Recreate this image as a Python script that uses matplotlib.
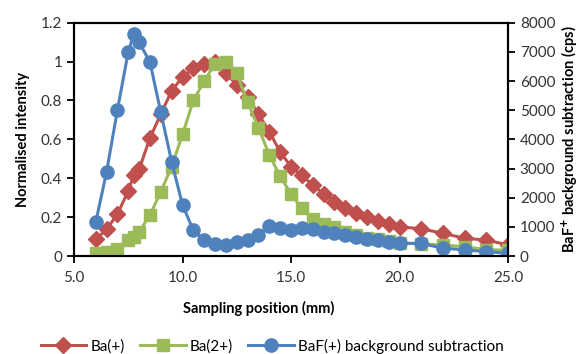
import matplotlib
matplotlib.use("Agg")
import matplotlib.pyplot as plt
from matplotlib.ticker import FixedLocator, FormatStrFormatter

plt.rcParams['font.family'] = ['Lato', 'DejaVu Sans']

# sampling positions (mm)
position = [6.0, 6.5, 7.0, 7.5, 7.75, 8.0, 8.5, 9.0, 9.5, 10.0, 10.5, 11.0, 11.5, 12.0,
            12.5, 13.0, 13.5, 14.0, 14.5, 15.0, 15.5, 16.0, 16.5, 17.0, 17.5, 18.0,
            18.5, 19.0, 19.5, 20.0, 21.0, 22.0, 23.0, 24.0, 25.0]

# normalised intensities
ba_plus = [0.085, 0.137, 0.215, 0.335, 0.415, 0.445, 0.607, 0.73, 0.85, 0.92, 0.965, 0.985,
           1.0, 0.94, 0.88, 0.82, 0.73, 0.64, 0.535, 0.46, 0.415, 0.365, 0.32, 0.28, 0.245,
           0.22, 0.20, 0.18, 0.165, 0.15, 0.14, 0.117, 0.091, 0.082, 0.057]
ba_2plus = [0.018, 0.022, 0.034, 0.08, 0.10, 0.125, 0.21, 0.33, 0.46, 0.625, 0.80, 0.90,
            0.99, 1.0, 0.94, 0.79, 0.66, 0.52, 0.41, 0.32, 0.245, 0.19, 0.165, 0.15, 0.125,
            0.11, 0.095, 0.085, 0.075, 0.068, 0.062, 0.057, 0.048, 0.033, 0.03]

# BaF+ counts after background subtraction (cps)
baf_plus = [1150, 2880, 5000, 7000, 7600, 7330, 6650, 4930, 3230, 1750, 880, 550, 400, 380,
            480, 550, 720, 1030, 970, 900, 950, 940, 840, 780, 720, 660, 600, 540, 480,
            435, 430, 270, 210, 150, 95]

red = '#C0504D'
green = '#9BBB59'
blue = '#4F81BD'

fig = plt.figure(figsize=(5.85, 3.54), dpi=100)
ax = fig.add_axes([74 / 585, 1 - 256 / 354, (508 - 74) / 585, (256 - 22.7) / 354])
ax2 = ax.twinx()

l1, = ax.plot(position, ba_plus, color=red, lw=2.2, marker='D', ms=8.5,
              mec=red, mfc=red, label='Ba(+)', zorder=2)
l2, = ax.plot(position, ba_2plus, color=green, lw=2.2, marker='s', ms=8.5,
              mec=green, mfc=green, label='Ba(2+)', zorder=3)
l3, = ax2.plot(position, baf_plus, color=blue, lw=2.2, marker='o', ms=9.5,
               mec=blue, mfc=blue, label='BaF(+) background subtraction')

ax.set_xlim(5, 25)
ax.set_ylim(0, 1.2)
ax2.set_ylim(0, 8000)
ax.xaxis.set_major_locator(FixedLocator([5, 10, 15, 20, 25]))
ax.xaxis.set_major_formatter(FormatStrFormatter('%.1f'))
ax.set_yticks([0, 0.2, 0.4, 0.6, 0.8, 1.0, 1.2])
ax.set_yticklabels(['0', '0.2', '0.4', '0.6', '0.8', '1', '1.2'])
ax2.set_yticks(range(0, 8001, 1000))

for a in (ax, ax2):
    for s in a.spines.values():
        s.set_linewidth(1.5)
        s.set_color('black')
    a.tick_params(direction='out', length=5, width=1.3, labelsize=11,
                  labelcolor='#333333', color='black')
ax.tick_params(axis='x', pad=6)

ax.set_ylabel('Normalised intensity', fontsize=10.5, fontweight='bold', labelpad=8)
ax2.set_ylabel('BaF$^{\\mathbf{+}}$ background subtraction (cps)', fontsize=10.5,
               fontweight='bold', labelpad=3)
fig.text(259 / 585, 1 - 308 / 354, 'Sampling position (mm)', fontsize=10.5,
         fontweight='bold', ha='center', va='center')

fig.legend(handles=[l1, l2, l3], loc='center', bbox_to_anchor=(272 / 585, 1 - 346 / 354),
           ncol=3, frameon=False, fontsize=11, handlelength=3.0, columnspacing=1.0,
           handletextpad=0.25, borderpad=0.2)

fig.savefig('out.png', dpi=100)
